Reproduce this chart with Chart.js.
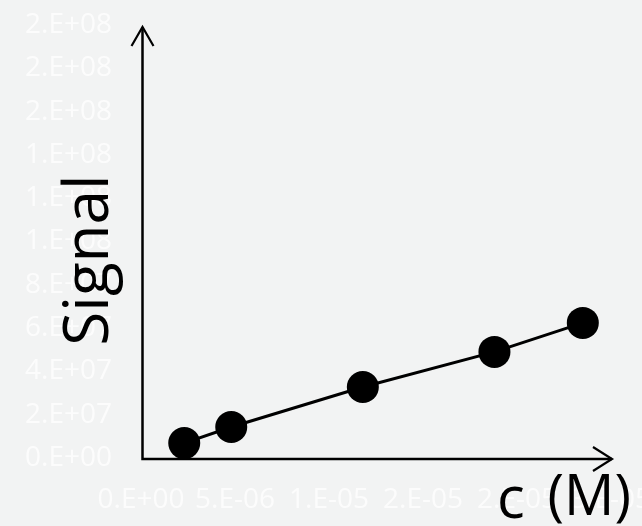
<!DOCTYPE html>
<html>
<head>
<meta charset="utf-8">
<script src="https://cdn.jsdelivr.net/npm/chart.js@4.4.1/dist/chart.umd.min.js"></script>
<style>
  html, body { margin: 0; padding: 0; background: #f2f3f3; }
  #wrap { width: 642px; height: 526px; }
</style>
</head>
<body>
<div id="wrap"><canvas id="chart" width="642" height="526"></canvas></div>
<script>
// Calibration points: concentration (M) and measured signal
const concentrations = [2.3e-6, 4.8e-6, 1.18e-5, 1.88e-5, 2.35e-5];
const signals = [6.9e6, 1.43e7, 3.28e7, 4.9e7, 6.24e7];

// Axis tick labels in "0.E+00" number format
const xTickLabels = ['0.E+00', '5.E-06', '1.E-05', '2.E-05', '2.E-05', '3.E-05'];
const yTickLabels = ['0.E+00', '2.E+07', '4.E+07', '6.E+07', '8.E+07', '1.E+08', '1.E+08', '1.E+08', '2.E+08', '2.E+08', '2.E+08'];

const yTitle = 'Signal';
const xTitleVar = 'c';
const xTitleUnit = '(M)';

const points = concentrations.map((c, i) => ({ x: c, y: signals[i] }));

// Axis lines with open arrowheads along the plot area edges
const axesArrows = {
  id: 'axesArrows',
  afterDatasetsDraw(chart) {
    const { ctx, chartArea: a } = chart;
    const x0 = a.left + 1.5, y0 = a.bottom + 1;
    const topY = a.top + 2, rightX = a.right + 1;
    ctx.save();
    ctx.strokeStyle = '#000';
    ctx.lineWidth = 2.5;
    ctx.lineJoin = 'miter';
    ctx.beginPath();
    ctx.moveTo(x0, topY);
    ctx.lineTo(x0, y0);
    ctx.lineTo(rightX, y0);
    ctx.stroke();
    ctx.lineWidth = 2.2;
    ctx.beginPath();
    ctx.moveTo(x0 - 11, topY + 19);
    ctx.lineTo(x0, topY);
    ctx.lineTo(x0 + 11, topY + 19);
    ctx.moveTo(rightX - 19, y0 - 12);
    ctx.lineTo(rightX, y0);
    ctx.lineTo(rightX - 19, y0 + 12);
    ctx.stroke();
    ctx.restore();
  }
};

// Large axis titles drawn over the tick labels
const axisTitles = {
  id: 'axisTitles',
  afterDraw(chart) {
    const { ctx } = chart;
    ctx.save();
    ctx.fillStyle = '#000';
    ctx.translate(108, 260);
    ctx.rotate(-Math.PI / 2);
    ctx.font = '62px "Open Sans"';
    ctx.textAlign = 'center';
    ctx.textBaseline = 'alphabetic';
    ctx.fillText(yTitle, 0, 0);
    ctx.restore();

    ctx.save();
    ctx.fillStyle = '#000';
    ctx.textBaseline = 'alphabetic';
    ctx.textAlign = 'left';
    ctx.font = '58px "Open Sans"';
    ctx.fillText(xTitleVar, 497, 518);
    ctx.font = '56px "Open Sans"';
    ctx.textAlign = 'right';
    ctx.fillText(xTitleUnit, 631, 515);
    ctx.restore();
  }
};

const tickFont = { family: '"Open Sans"', size: 28 };
const tickColor = '#fcfcfc';

new Chart(document.getElementById('chart'), {
  type: 'scatter',
  data: {
    datasets: [{
      data: points,
      showLine: true,
      borderColor: '#000',
      borderWidth: 3,
      backgroundColor: '#000',
      pointRadius: 16,
      pointBorderWidth: 0,
      pointHoverRadius: 16,
      clip: false
    }]
  },
  options: {
    responsive: false,
    animation: false,
    devicePixelRatio: 1,
    events: [],
    layout: { padding: { top: 25, right: 31, left: 0, bottom: 0 } },
    plugins: { legend: { display: false }, tooltip: { enabled: false } },
    scales: {
      x: {
        type: 'linear',
        min: 0,
        max: 2.5e-5,
        grid: { display: false, drawTicks: false },
        border: { display: false },
        ticks: {
          stepSize: 5e-6,
          autoSkip: false,
          maxRotation: 0,
          minRotation: 0,
          padding: 25,
          color: tickColor,
          font: tickFont,
          callback: (v, i) => xTickLabels[i]
        },
        afterFit(s) { s.height = 68; s.paddingLeft = 0; s.paddingRight = 0; }
      },
      y: {
        type: 'linear',
        min: 0,
        max: 2e8,
        grid: { display: false, drawTicks: false },
        border: { display: false },
        ticks: {
          stepSize: 2e7,
          padding: 29,
          color: tickColor,
          font: tickFont,
          callback: (v, i) => yTickLabels[i]
        },
        afterFit(s) { s.width = 141; s.paddingTop = 0; s.paddingBottom = 0; }
      }
    }
  },
  plugins: [axesArrows, axisTitles]
});
</script>
</body>
</html>
